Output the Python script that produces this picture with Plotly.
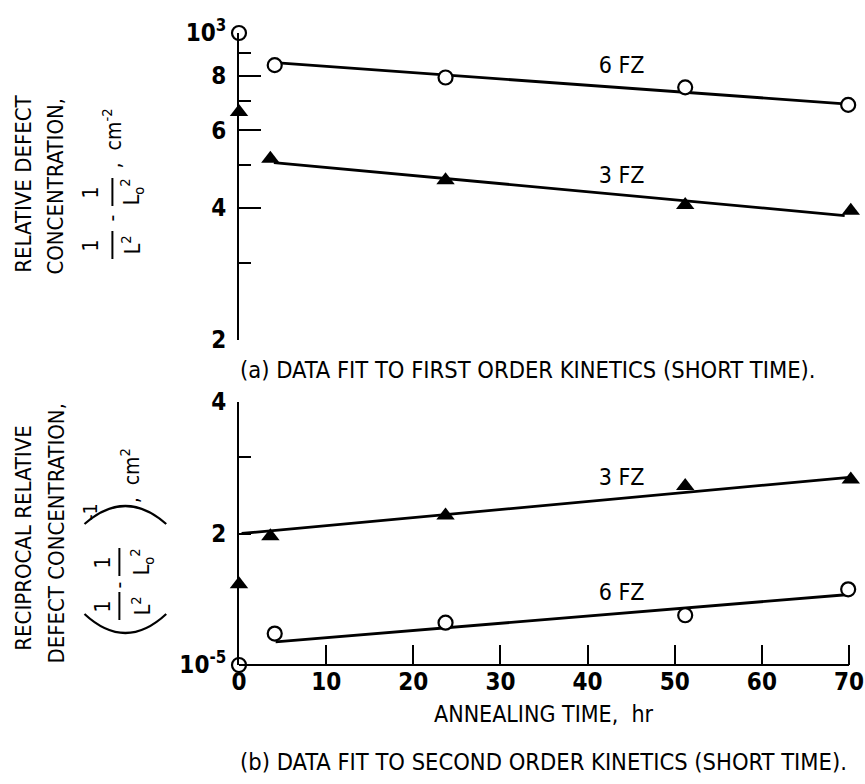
import math
import plotly.graph_objects as go

# ---------------- data ----------------
time_6fz = [0, 4.1, 23.7, 51.2, 69.9]
time_3fz = [0, 3.6, 23.7, 51.2, 70.2]
first_order_6fz = [1000, 845, 792, 752, 686]
first_order_3fz = [661, 517, 462, 406, 394]
second_order_6fz = [1.0, 1.18, 1.25, 1.30, 1.49]
second_order_3fz = [1.53, 1.97, 2.20, 2.57, 2.66]

fit_time_first_6fz = [4.5, 69.9]
fit_first_6fz = [855, 689]
fit_time_first_3fz = [4.0, 69.5]
fit_first_3fz = [507, 384]
fit_time_second_3fz = [0.3, 70.0]
fit_second_3fz = [2.0, 2.69]
fit_time_second_6fz = [4.2, 70.0]
fit_second_6fz = [1.13, 1.45]

x_tick_vals = [0, 10, 20, 30, 40, 50, 60, 70]
top_tick_vals = [200, 400, 600, 800, 1000]
top_tick_text = ["2", "4", "6", "8", "10<sup>3</sup>"]
top_minor_vals = [300, 500, 700, 900]
bottom_tick_vals = [1, 2, 4]
bottom_tick_text = ["10<sup>-5</sup>", "2", "4"]
bottom_minor_vals = [3]

series_names = ["6 FZ", "3 FZ"]
label_time = [43.9, 43.9]
top_label_vals = [834, 469]
bottom_label_vals = [1.45, 2.66]

# ---------------- styling ----------------
FONT = "Liberation Sans Narrow, DejaVu Sans Condensed, Arial Narrow, sans-serif"
W, H = 865, 784
ML, MR, MT, MB = 239, 1, 33, 119
PW, PH = W - ML - MR, H - MT - MB
X_END_PX = 851                     # pixel where t = 70 sits
X_MAX = x_tick_vals[-1] * PW / (X_END_PX - ML)
TOP_BOTTOM_PX = 340                # pixel of the "2" tick of the upper panel
BOTTOM_TOP_PX = 402                # pixel of the "4" tick of the lower panel


def px_x(p):
    return (p - ML) / PW


def px_y(p):
    return (H - MB - p) / PH


fig = go.Figure()

line_style = dict(color="black", width=2.8)
circle_marker = dict(symbol="circle", size=14, color="white", line=dict(color="black", width=2.2))
tri_marker = dict(symbol="triangle-up", size=16, color="black", line=dict(color="black", width=0))

# top panel (first order)
fig.add_trace(go.Scatter(x=fit_time_first_6fz, y=fit_first_6fz, mode="lines", line=line_style,
                         xaxis="x2", yaxis="y2", showlegend=False, hoverinfo="skip"))
fig.add_trace(go.Scatter(x=fit_time_first_3fz, y=fit_first_3fz, mode="lines", line=line_style,
                         xaxis="x2", yaxis="y2", showlegend=False, hoverinfo="skip"))
fig.add_trace(go.Scatter(x=time_6fz, y=first_order_6fz, mode="markers", marker=circle_marker,
                         xaxis="x2", yaxis="y2", cliponaxis=False, showlegend=False, name="6 FZ"))
fig.add_trace(go.Scatter(x=time_3fz, y=first_order_3fz, mode="markers", marker=tri_marker,
                         xaxis="x2", yaxis="y2", cliponaxis=False, showlegend=False, name="3 FZ"))
fig.add_trace(go.Scatter(x=label_time, y=top_label_vals, mode="text", text=series_names,
                         textfont=dict(family=FONT, size=23, color="black"),
                         xaxis="x2", yaxis="y2", cliponaxis=False, showlegend=False, hoverinfo="skip"))

# bottom panel (second order)
fig.add_trace(go.Scatter(x=fit_time_second_3fz, y=fit_second_3fz, mode="lines", line=line_style,
                         xaxis="x", yaxis="y", showlegend=False, hoverinfo="skip"))
fig.add_trace(go.Scatter(x=fit_time_second_6fz, y=fit_second_6fz, mode="lines", line=line_style,
                         xaxis="x", yaxis="y", showlegend=False, hoverinfo="skip"))
fig.add_trace(go.Scatter(x=time_6fz, y=second_order_6fz, mode="markers", marker=circle_marker,
                         xaxis="x", yaxis="y", cliponaxis=False, showlegend=False, name="6 FZ"))
fig.add_trace(go.Scatter(x=time_3fz, y=second_order_3fz, mode="markers", marker=tri_marker,
                         xaxis="x", yaxis="y", cliponaxis=False, showlegend=False, name="3 FZ"))
fig.add_trace(go.Scatter(x=label_time, y=bottom_label_vals, mode="text", text=series_names,
                         textfont=dict(family=FONT, size=23, color="black"),
                         xaxis="x", yaxis="y", cliponaxis=False, showlegend=False, hoverinfo="skip"))

tick_font = dict(family=FONT, size=24, color="black", weight="bold")

fig.update_layout(
    width=W, height=H,
    margin=dict(l=ML, r=MR, t=MT, b=MB),
    paper_bgcolor="white", plot_bgcolor="white",
    font=dict(family=FONT, color="black"),
    xaxis=dict(domain=[0, 1], range=[0, X_MAX], anchor="y", showline=False,
               ticks="inside", ticklen=20, tickwidth=2, tickcolor="black",
               tickvals=x_tick_vals, ticktext=[str(v) for v in x_tick_vals],
               tickfont=tick_font, ticklabeloverflow="allow", showgrid=False, zeroline=False),
    yaxis=dict(domain=[0, px_y(BOTTOM_TOP_PX)], type="log", range=[0, math.log10(4)], anchor="x",
               showline=True, linecolor="black", linewidth=2,
               ticks="inside", ticklen=12, tickwidth=2, tickcolor="black",
               tickvals=bottom_tick_vals, ticktext=bottom_tick_text, tickfont=tick_font,
               ticklabelstandoff=6,
               minor=dict(tickvals=bottom_minor_vals, ticks="inside", ticklen=12, tickwidth=2,
                          tickcolor="black"),
               showgrid=False, zeroline=False),
    xaxis2=dict(domain=[0, 1], range=[0, X_MAX], anchor="y2", visible=False),
    yaxis2=dict(domain=[px_y(TOP_BOTTOM_PX), 1], type="log", range=[math.log10(200), 3], anchor="x2",
                showline=True, linecolor="black", linewidth=2,
                ticks="inside", ticklen=22, tickwidth=2, tickcolor="black",
                tickvals=top_tick_vals, ticktext=top_tick_text, tickfont=tick_font,
                ticklabelstandoff=6,
                minor=dict(tickvals=top_minor_vals, ticks="inside", ticklen=12, tickwidth=2,
                           tickcolor="black"),
                showgrid=False, zeroline=False),
)

annotations = []
shapes = []

# x-axis baseline from 0 to 70 hr only
shapes.append(dict(type="line", xref="x", yref="paper", x0=x_tick_vals[0], x1=x_tick_vals[-1],
                   y0=0, y1=0, line=dict(color="black", width=2)))


def add_text(text, x, y, size=20, angle=-90, xanchor="center", yanchor="middle"):
    annotations.append(dict(text=text, x=px_x(x), y=px_y(y), xref="paper", yref="paper",
                            showarrow=False, textangle=angle, xanchor=xanchor, yanchor=yanchor,
                            font=dict(family=FONT, size=size, color="black")))


def add_bar(x, y0, y1):
    shapes.append(dict(type="line", xref="paper", yref="paper", x0=px_x(x), x1=px_x(x),
                       y0=px_y(y0), y1=px_y(y1), line=dict(color="black", width=2)))


# captions and axis title
add_text("(a) DATA FIT TO FIRST ORDER KINETICS (SHORT TIME).", 238, 370, size=23.5, angle=0, xanchor="left")
add_text("(b) DATA FIT TO SECOND ORDER KINETICS (SHORT TIME).", 238, 762, size=23.5, angle=0, xanchor="left")
add_text("ANNEALING TIME,  hr", 545, 714, size=23, angle=0)

# top y title
add_text("RELATIVE DEFECT", 22, 184, size=22)
add_text("CONCENTRATION,", 55, 186, size=22)
add_text("1", 91, 245, size=21)
add_bar(112, 231, 259)
add_text("L<sup>2</sup>", 131, 245, size=21)
add_text("-", 112, 218, size=21)
add_text("1", 91, 192, size=21)
add_bar(112, 178, 206)
add_text("L<sub>o</sub><sup>2</sup>", 131, 192, size=21)
add_text(",  cm<sup>-2</sup>", 112, 138, size=21)

# bottom y title
add_text("RECIPROCAL RELATIVE", 22, 538, size=22)
add_text("DEFECT CONCENTRATION,", 55, 533, size=22)
add_text("1", 103, 606, size=21)
add_bar(119, 592, 620)
add_text("L<sup>2</sup>", 141, 606, size=21)
add_text("-", 119, 585, size=21)
add_text("1", 103, 562, size=21)
add_bar(119, 548, 576)
add_text("L<sub>o</sub><sup>2</sup>", 141, 562, size=21)
add_text("-1", 90, 512, size=19)
add_text(",  cm<sup>2</sup>", 130, 476, size=21)


def paren(x0, x1, y_end, y_mid):
    xm = (x0 + x1) / 2
    return dict(type="path", xref="paper", yref="paper",
                path=f"M {px_x(x0)},{px_y(y_end)} Q {px_x(xm)},{px_y(2 * y_mid - y_end)} {px_x(x1)},{px_y(y_end)}",
                line=dict(color="black", width=2.2))


shapes.append(paren(84, 166, 614, 633))
shapes.append(paren(84, 166, 524, 506))

fig.update_layout(annotations=annotations, shapes=shapes)

fig.write_html("out.html", config={"displayModeBar": False},
               post_script="document.body.style.margin='0';document.body.style.overflow='hidden';")
